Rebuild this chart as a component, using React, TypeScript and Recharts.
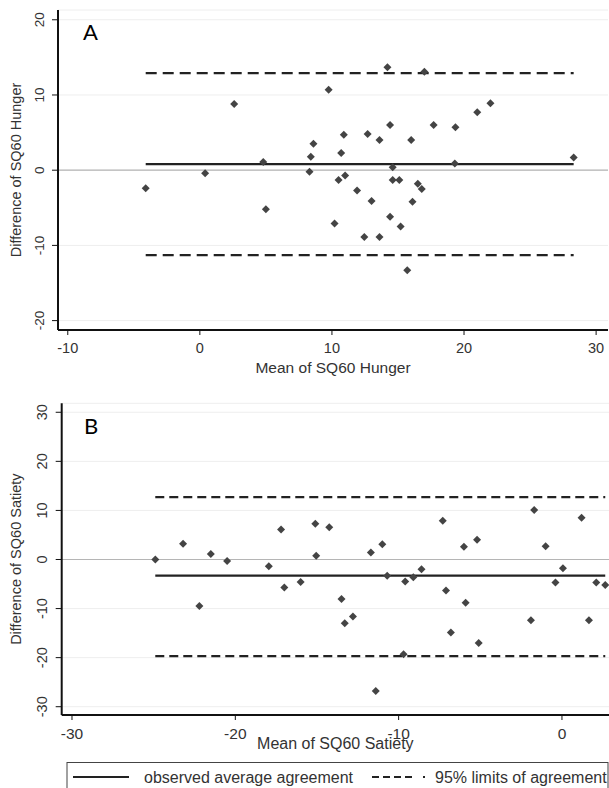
import React from 'react';
import { ScatterChart, Scatter, XAxis, YAxis, CartesianGrid, ReferenceLine } from 'recharts';

// Panel A: SQ60 Hunger (Bland-Altman)
const hungerMean = [-4.1, 0.4, 2.6, 4.8, 5.0, 8.3, 8.4, 8.6, 9.75, 10.2, 10.5, 10.7, 10.9, 11.0, 11.9, 12.7, 12.45, 13.0, 13.6, 13.6, 14.2, 14.4, 14.4, 14.6, 14.6, 15.1, 15.2, 15.7, 16.0, 16.1, 16.5, 16.8, 17.0, 17.7, 19.3, 19.35, 21.0, 22.0, 28.3];
const hungerDiff = [-2.4, -0.4, 8.8, 1.1, -5.2, -0.2, 1.8, 3.5, 10.7, -7.1, -1.3, 2.3, 4.7, -0.7, -2.7, 4.8, -8.9, -4.1, 4.0, -8.9, 13.7, 6.0, -6.2, 0.4, -1.3, -1.3, -7.5, -13.3, 4.0, -4.2, -1.8, -2.5, 13.1, 6.0, 0.9, 5.7, 7.7, 8.9, 1.7];
const hungerLines = { mean: 0.8, upper: 12.9, lower: -11.3 };
const hungerXTicks = [-10, 0, 10, 20, 30];
const hungerYTicks = [-20, -10, 0, 10, 20];

// Panel B: SQ60 Satiety
const satietyMean = [-24.9, -23.2, -22.2, -21.5, -20.5, -17.95, -17.2, -17.0, -16.0, -15.1, -15.05, -14.25, -13.5, -13.3, -12.8, -11.7, -11.0, -11.4, -10.7, -9.7, -9.6, -9.1, -8.6, -7.3, -7.1, -6.8, -6.0, -5.9, -5.2, -5.1, -1.9, -1.7, -1.0, -0.4, 0.06, 1.2, 1.65, 2.1, 2.65];
const satietyDiff = [0.0, 3.2, -9.5, 1.1, -0.3, -1.4, 6.1, -5.7, -4.6, 7.3, 0.75, 6.55, -8.05, -13.0, -11.6, 1.4, 3.1, -26.8, -3.3, -19.3, -4.5, -3.6, -2.0, 7.9, -6.3, -14.9, 2.6, -8.8, 4.0, -17.0, -12.4, 10.1, 2.7, -4.7, -1.8, 8.5, -12.4, -4.7, -5.2];
const satietyLines = { mean: -3.3, upper: 12.7, lower: -19.7 };
const satietyXTicks = [-30, -20, -10, 0];
const satietyYTicks = [-30, -20, -10, 0, 10, 20, 30];

const FONT = '"Liberation Sans", Arial, sans-serif';

const toPoints = (xs: number[], ys: number[]) => xs.map((x, i) => ({ x, y: ys[i] }));

const Diamond = (props: any) => {
  const { cx, cy } = props;
  const r = 4;
  return <path d={`M${cx},${cy - r}L${cx + r},${cy}L${cx},${cy + r}L${cx - r},${cy}Z`} fill="#444" />;
};

const makeYTick = (fontSize: number) => (props: any) => {
  const { x, y, payload } = props;
  return (
    <text x={x} y={y} transform={`rotate(-90 ${x} ${y})`} textAnchor="middle" fontSize={fontSize} fill="#333" fontFamily={FONT}>
      {payload.value}
    </text>
  );
};

const makeXTick = (fontSize: number, offset: number) => (props: any) => {
  const { x, y, payload } = props;
  return (
    <text x={x} y={y + offset} textAnchor="middle" fontSize={fontSize} fill="#333" fontFamily={FONT}>
      {payload.value}
    </text>
  );
};

interface PanelProps {
  xs: number[];
  ys: number[];
  lines: { mean: number; upper: number; lower: number };
  xDomain: [number, number];
  yDomain: [number, number];
  xTicks: number[];
  yTicks: number[];
  height: number;
  margin: { top: number; right: number; left: number; bottom: number };
  yAxisWidth: number;
  xAxisHeight: number;
  yTickMargin: number;
  yTickFont: number;
  xTickFont: number;
  xTickOffset: number;
  xTitle: string;
  xTitleY: number;
  xTitleFont: number;
  yTitle: string;
  yTitleFont: number;
  dash: string;
}

const BlandAltman: React.FC<PanelProps> = (p) => {
  const data = toPoints(p.xs, p.ys);
  const minX = Math.min(...p.xs);
  const maxX = Math.max(...p.xs);
  return (
    <ScatterChart width={609} height={p.height} margin={p.margin}>
      <CartesianGrid vertical={false} stroke="#eeeeee" />
      <ReferenceLine y={0} stroke="#b5b5b5" strokeWidth={1.2} />
      <XAxis
        type="number"
        dataKey="x"
        domain={p.xDomain}
        ticks={p.xTicks}
        allowDataOverflow
        height={p.xAxisHeight}
        axisLine={{ stroke: '#111', strokeWidth: 2 }}
        tickLine={{ stroke: '#111', strokeWidth: 1 }}
        tickSize={5}
        tickMargin={0}
        tick={makeXTick(p.xTickFont, p.xTickOffset)}
        label={{
          content: (lp: any) => (
            <text x={lp.viewBox.x + lp.viewBox.width / 2} y={p.xTitleY} textAnchor="middle" fontSize={p.xTitleFont} fill="#333" fontFamily={FONT}>
              {p.xTitle}
            </text>
          ),
        }}
      />
      <YAxis
        type="number"
        dataKey="y"
        domain={p.yDomain}
        ticks={p.yTicks}
        allowDataOverflow
        width={p.yAxisWidth}
        axisLine={{ stroke: '#111', strokeWidth: 2 }}
        tickLine={{ stroke: '#111', strokeWidth: 1 }}
        tickSize={6}
        tickMargin={p.yTickMargin}
        tick={makeYTick(p.yTickFont)}
        label={{
          content: (lp: any) => {
            const cy = lp.viewBox.y + lp.viewBox.height / 2;
            return (
              <text x={21} y={cy} transform={`rotate(-90 21 ${cy})`} textAnchor="middle" fontSize={p.yTitleFont} fill="#333" fontFamily={FONT}>
                {p.yTitle}
              </text>
            );
          },
        }}
      />
      <ReferenceLine segment={[{ x: minX, y: p.lines.upper }, { x: maxX, y: p.lines.upper }]} stroke="#222" strokeWidth={2.2} strokeDasharray={p.dash} />
      <ReferenceLine segment={[{ x: minX, y: p.lines.lower }, { x: maxX, y: p.lines.lower }]} stroke="#222" strokeWidth={2.2} strokeDasharray={p.dash} />
      <ReferenceLine segment={[{ x: minX, y: p.lines.mean }, { x: maxX, y: p.lines.mean }]} stroke="#222" strokeWidth={2.2} />
      <Scatter data={data} shape={Diamond} isAnimationActive={false} />
    </ScatterChart>
  );
};

export default function App() {
  return (
    <div style={{ position: 'absolute', left: 0, top: 0, width: 609, height: 788, background: '#fff', overflow: 'hidden' }}>
      <div style={{ position: 'absolute', left: 0, top: 0 }}>
        <BlandAltman
          xs={hungerMean}
          ys={hungerDiff}
          lines={hungerLines}
          xDomain={[-10.74, 30.9]}
          yDomain={[-21.25, 21.3]}
          xTicks={hungerXTicks}
          yTicks={hungerYTicks}
          height={380}
          margin={{ top: 10, right: 1, left: 0, bottom: 0 }}
          yAxisWidth={58}
          xAxisHeight={50}
          yTickMargin={8}
          yTickFont={13.5}
          xTickFont={14.5}
          xTickOffset={18}
          xTitle="Mean of SQ60 Hunger"
          xTitleY={373}
          xTitleFont={15.5}
          yTitle="Difference of SQ60 Hunger"
          yTitleFont={14.5}
          dash="11 6"
        />
      </div>
      <div style={{ position: 'absolute', left: 0, top: 390 }}>
        <BlandAltman
          xs={satietyMean}
          ys={satietyDiff}
          lines={satietyLines}
          xDomain={[-30.63, 2.88]}
          yDomain={[-31.69, 31.83]}
          xTicks={satietyXTicks}
          yTicks={satietyYTicks}
          height={370}
          margin={{ top: 13.3, right: 0, left: 0, bottom: 0 }}
          yAxisWidth={61.7}
          xAxisHeight={45}
          yTickMargin={9}
          yTickFont={14.5}
          xTickFont={15.5}
          xTickOffset={19}
          xTitle="Mean of SQ60 Satiety"
          xTitleY={359}
          xTitleFont={16}
          yTitle="Difference of SQ60 Satiety"
          yTitleFont={14.5}
          dash="9 5"
        />
      </div>
      <svg width={609} height={788} style={{ position: 'absolute', left: 0, top: 0, pointerEvents: 'none' }}>
        <text x={83} y={40} fontSize={22} fill="#000" fontFamily="Lato, 'Open Sans', sans-serif">A</text>
        <text x={84} y={434} fontSize={22} fill="#000" fontFamily="Lato, 'Open Sans', sans-serif">B</text>
        <rect x={67} y={762.5} width={541} height={40} fill="none" stroke="#444" strokeWidth={1} />
        <line x1={73} y1={777} x2={129} y2={777} stroke="#222" strokeWidth={2} />
        <text x={144} y={783} fontSize={16} fill="#333" fontFamily={FONT}>observed average agreement</text>
        <line x1={372} y1={777} x2={414} y2={777} stroke="#222" strokeWidth={2} strokeDasharray="7 4" />
        <line x1={423} y1={777} x2={425} y2={777} stroke="#222" strokeWidth={2} />
        <text x={435} y={783} fontSize={16} fill="#333" fontFamily={FONT}>95% limits of agreement</text>
      </svg>
    </div>
  );
}
